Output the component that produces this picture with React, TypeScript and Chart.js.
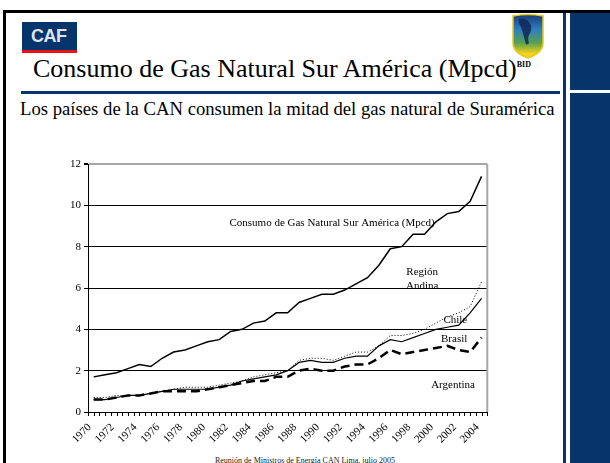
import React, { useEffect, useRef } from "react";
import { Chart, registerables } from "chart.js";

Chart.register(...registerables);

const years = [
  "1970", "1971", "1972", "1973", "1974", "1975", "1976", "1977", "1978", "1979",
  "1980", "1981", "1982", "1983", "1984", "1985", "1986", "1987", "1988", "1989",
  "1990", "1991", "1992", "1993", "1994", "1995", "1996", "1997", "1998", "1999",
  "2000", "2001", "2002", "2003", "2004",
];

const totalSurAmerica = [
  1.7, 1.8, 1.9, 2.1, 2.3, 2.2, 2.6, 2.9, 3.0, 3.2,
  3.4, 3.5, 3.9, 4.0, 4.3, 4.4, 4.8, 4.8, 5.3, 5.5,
  5.7, 5.7, 5.9, 6.2, 6.5, 7.1, 7.9, 8.0, 8.6, 8.6,
  9.2, 9.6, 9.7, 10.2, 11.4,
];

const regionAndina = [
  0.7, 0.7, 0.8, 0.8, 0.8, 0.9, 1.0, 1.1, 1.2, 1.2,
  1.2, 1.3, 1.4, 1.5, 1.7, 1.8, 1.9, 2.0, 2.5, 2.6,
  2.6, 2.5, 2.7, 2.9, 2.9, 3.2, 3.7, 3.7, 3.8, 4.0,
  4.3, 4.6, 4.8, 5.1, 6.3,
];

const chile = [
  0.6, 0.6, 0.7, 0.8, 0.8, 0.9, 1.0, 1.1, 1.1, 1.1,
  1.1, 1.2, 1.3, 1.5, 1.6, 1.7, 1.8, 2.0, 2.4, 2.5,
  2.4, 2.4, 2.6, 2.7, 2.7, 3.2, 3.5, 3.4, 3.6, 3.8,
  4.0, 4.1, 4.2, 4.8, 5.5,
];

const brasil = [
  0.6, 0.6, 0.7, 0.8, 0.8, 0.9, 1.0, 1.0, 1.0, 1.0,
  1.1, 1.2, 1.3, 1.4, 1.5, 1.5, 1.7, 1.7, 2.0, 2.1,
  2.0, 2.0, 2.2, 2.3, 2.3, 2.6, 3.0, 2.8, 2.9, 3.0,
  3.1, 3.2, 3.0, 2.9, 3.6,
];

const yTickValues = [0, 2, 4, 6, 8, 10, 12];

// in-chart text labels, anchored in data coordinates (category index, value)
const seriesLabels = [
  { text: "Consumo de Gas Natural Sur América (Mpcd)", at: 20.9, value: 9.15 },
  { text: "Región", at: 28.8, value: 6.75 },
  { text: "Andina", at: 28.8, value: 6.1 },
  { text: "Chile", at: 31.7, value: 4.45 },
  { text: "Brasil", at: 31.6, value: 3.53 },
  { text: "Argentina", at: 31.5, value: 1.3 },
];

const NAVY = "#06346b";
const SERIF = "'Liberation Serif', 'Times New Roman', serif";

const decorPlugin = {
  id: "decor",
  afterDraw(chart: any) {
    const { ctx, chartArea, scales } = chart;
    const xs = scales.x;
    const ys = scales.y;
    ctx.save();
    // right border of plot area
    ctx.strokeStyle = "#a6a6a6";
    ctx.lineWidth = 2;
    ctx.beginPath();
    ctx.moveTo(chartArea.right, chartArea.top);
    ctx.lineTo(chartArea.right, chartArea.bottom);
    ctx.stroke();
    // x tick marks every half category
    ctx.strokeStyle = "#000";
    ctx.lineWidth = 1;
    ctx.beginPath();
    for (let k = 0; k <= years.length * 2; k++) {
      const px = Math.round(xs.getPixelForValue(k / 2 - 0.5)) + 0.5;
      ctx.moveTo(px, chartArea.bottom);
      ctx.lineTo(px, chartArea.bottom + 4);
    }
    ctx.stroke();
    // text labels
    ctx.fillStyle = "#000";
    ctx.font = `11px ${SERIF}`;
    ctx.textAlign = "center";
    ctx.textBaseline = "middle";
    for (const l of seriesLabels) {
      ctx.fillText(l.text, xs.getPixelForValue(l.at), ys.getPixelForValue(l.value));
    }
    ctx.restore();
  },
};

function GasChart() {
  const ref = useRef<HTMLCanvasElement | null>(null);
  useEffect(() => {
    if (!ref.current) return;
    const chart = new Chart(ref.current, {
      type: "line",
      data: {
        labels: years,
        datasets: [
          {
            label: "Consumo de Gas Natural Sur América (Mpcd)",
            data: totalSurAmerica,
            borderColor: "#000",
            borderWidth: 1.5,
            pointRadius: 0,
            tension: 0,
          },
          {
            label: "Región Andina",
            data: regionAndina,
            borderColor: "#000",
            borderWidth: 1,
            borderDash: [1, 2],
            pointRadius: 0,
            tension: 0,
          },
          {
            label: "Chile",
            data: chile,
            borderColor: "#000",
            borderWidth: 1.2,
            pointRadius: 0,
            tension: 0,
          },
          {
            label: "Brasil",
            data: brasil,
            borderColor: "#000",
            borderWidth: 2.5,
            borderDash: [9, 5],
            pointRadius: 0,
            tension: 0,
          },
        ],
      },
      options: {
        responsive: false,
        animation: false,
        layout: { padding: { top: 14, right: 8, left: 0, bottom: 0 } },
        plugins: {
          legend: { display: false },
          tooltip: { enabled: false },
        },
        scales: {
          x: {
            type: "category",
            offset: true,
            afterFit: (s: any) => {
              s.height = 40;
            },
            grid: { display: false, drawTicks: false },
            border: { display: true, color: "#000", width: 1 },
            ticks: {
              autoSkip: false,
              maxRotation: 45,
              minRotation: 45,
              padding: 9,
              labelOffset: -4,
              color: "#000",
              font: { family: SERIF, size: 11 },
              callback: (_v: any, i: number) => (i % 2 === 0 ? years[i] : ""),
            },
          },
          y: {
            min: 0,
            max: 12,
            afterFit: (s: any) => {
              s.width = 68;
            },
            afterBuildTicks: (s: any) => {
              s.ticks = yTickValues.map((v) => ({ value: v }));
            },
            grid: {
              color: (c: any) => (c.tick && c.tick.value === 12 ? "#a6a6a6" : "#000"),
              lineWidth: (c: any) => (c.tick && c.tick.value === 12 ? 2 : 1),
              drawTicks: true,
              tickLength: 4,
              tickColor: "#000",
            },
            border: { display: true, color: "#000", width: 1 },
            ticks: {
              padding: 3,
              color: "#000",
              font: { family: SERIF, size: 11 },
            },
          },
        },
      },
      plugins: [decorPlugin],
    });
    return () => chart.destroy();
  }, []);
  return <canvas ref={ref} width={480} height={302} style={{ position: "absolute", left: 20, top: 150 }} />;
}

function BidShield() {
  return (
    <svg width={34} height={46} viewBox="0 0 34 46" style={{ position: "absolute", left: 511, top: 13 }}>
      <defs>
        <linearGradient id="bidg" x1="0" y1="0" x2="0" y2="1">
          <stop offset="0" stopColor="#1b3a78" />
          <stop offset="0.35" stopColor="#2f7fbf" />
          <stop offset="0.65" stopColor="#5aa050" />
          <stop offset="0.9" stopColor="#f2d41c" />
        </linearGradient>
      </defs>
      <path d="M2 3 Q17 0 32 3 L32 30 Q32 40 17 45 Q2 40 2 30 Z" fill="url(#bidg)" stroke="#e8c81a" strokeWidth={1.5} />
      <path d="M8 6 Q14 4 18 9 Q22 14 19 20 Q16 24 18 30 Q15 34 14 28 Q12 20 10 14 Q7 10 8 6 Z" fill="#0d2350" opacity={0.8} />
    </svg>
  );
}

export default function App() {
  return (
    <div
      style={{
        position: "fixed",
        left: 0,
        top: 0,
        width: 610,
        height: 463,
        overflow: "hidden",
        background: "#fff",
        fontFamily: SERIF,
      }}
    >
      {/* frame */}
      <div style={{ position: "absolute", left: 3, top: 10, width: 607, height: 3, background: "#000" }} />
      <div style={{ position: "absolute", left: 3, top: 10, width: 3, height: 453, background: "#000" }} />
      <div style={{ position: "absolute", left: 563, top: 13, width: 3, height: 450, background: NAVY }} />
      <div style={{ position: "absolute", left: 570, top: 13, width: 40, height: 450, background: NAVY }} />
      <div style={{ position: "absolute", left: 570, top: 90, width: 40, height: 3, background: "#fff" }} />
      <div style={{ position: "absolute", left: 21, top: 91, width: 539, height: 3, background: NAVY }} />

      {/* CAF logo */}
      <div
        style={{
          position: "absolute",
          left: 22,
          top: 22,
          height: 28,
          background: NAVY,
          borderBottom: "3px solid #e3141b",
          color: "#dfe4ec",
          fontFamily: "'Liberation Sans', Arial, sans-serif",
          fontWeight: 900,
          fontSize: 18,
          lineHeight: "28px",
          paddingLeft: 9,
          boxSizing: "content-box",
          width: 46,
          letterSpacing: -0.5,
        }}
      >
        CAF
      </div>

      <BidShield />

      {/* title */}
      <div
        style={{
          position: "absolute",
          left: 33,
          top: 49,
          fontSize: 26,
          lineHeight: "32px",
          color: "#000",
          whiteSpace: "nowrap",
        }}
      >
        Consumo de Gas Natural Sur América (Mpcd)
        <span style={{ fontSize: 8, fontWeight: "bold", verticalAlign: 10 }}>BID</span>
      </div>

      {/* subtitle */}
      <div
        style={{
          position: "absolute",
          left: 20,
          top: 98,
          fontSize: 18.7,
          lineHeight: "22px",
          color: "#000",
          whiteSpace: "nowrap",
        }}
      >
        Los países de la CAN consumen la mitad del gas natural de Suramérica
      </div>

      <GasChart />

      {/* footer */}
      <div
        style={{
          position: "absolute",
          left: 0,
          width: 610,
          top: 456,
          textAlign: "center",
          fontSize: 8,
          lineHeight: "10px",
          color: "#222",
          whiteSpace: "nowrap",
        }}
      >
        Reunión de Ministros de Energía CAN Lima, julio 2005
      </div>
    </div>
  );
}
